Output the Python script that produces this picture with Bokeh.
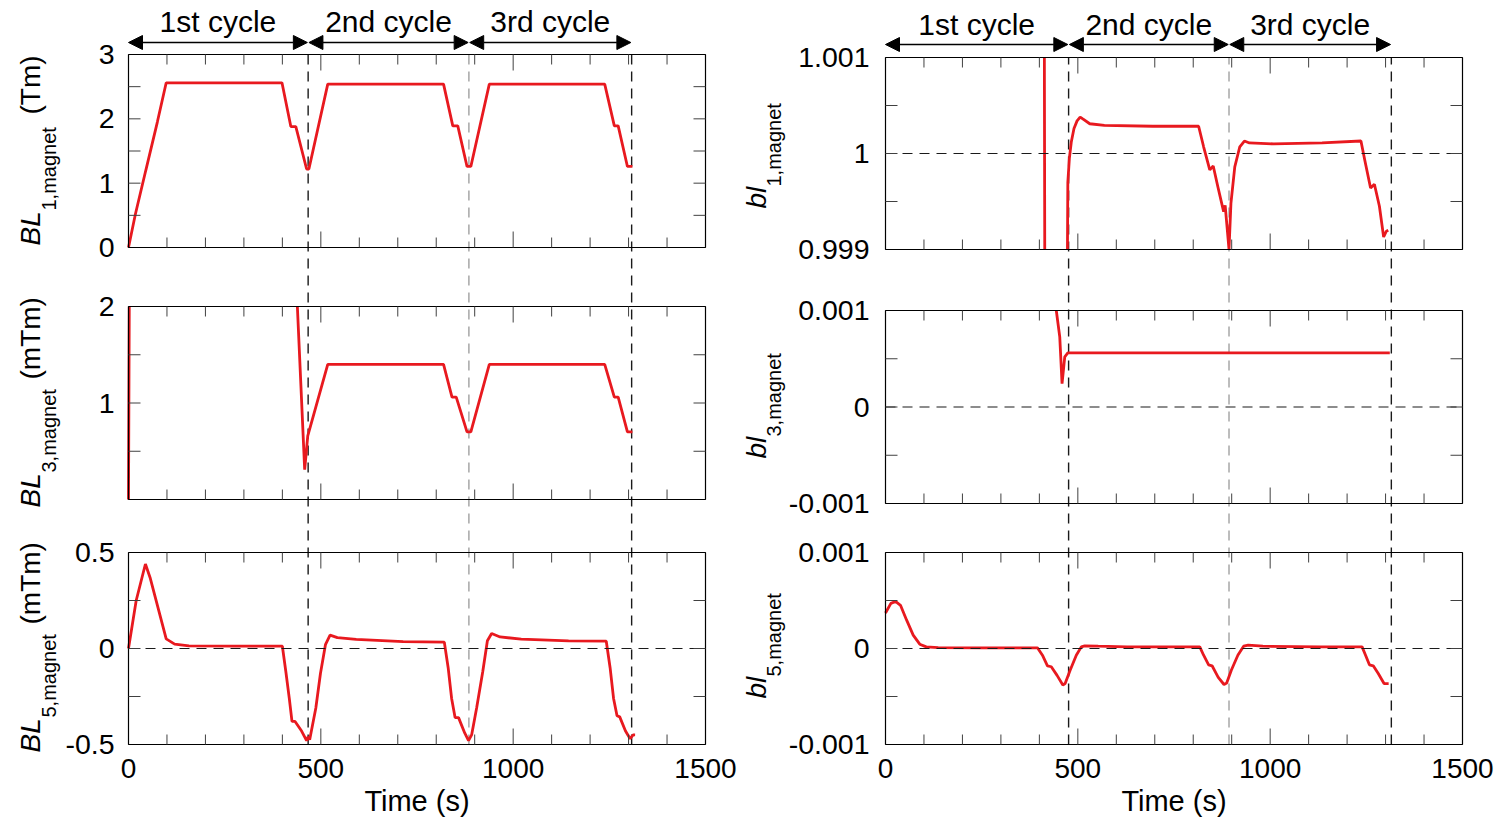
import math
import numpy as np
from bokeh.plotting import figure
from bokeh.models import Range1d, Arrow, NormalHead, ColumnDataSource, CoordinateMapping
from bokeh.embed import file_html
from bokeh.resources import INLINE
from bokeh.core.properties import value

nan = np.nan

# ---------------- data ----------------
cycle_names = ["1st cycle", "2nd cycle", "3rd cycle"]
bounds_left = [467, 885, 1308]      # cycle boundaries (s), left column
bounds_right = [476, 893, 1315]     # cycle boundaries (s), right column

x_range_s = [0, 1500]
x_major = [0, 500, 1000, 1500]
x_major_labels = ["0", "500", "1000", "1500"]
x_minor = list(range(0, 1501, 100))

# BL1,magnet (Tm)
t_BL1 = [0, 18, 45, 75, 98, 399, 422, 435, 463, 469, 518, 819, 843, 856, 880, 890,
         938, 1238, 1263, 1273, 1297, 1310]
BL1 = [0, 0.52, 1.2, 1.95, 2.56, 2.56, 1.88, 1.88, 1.22, 1.22, 2.54, 2.54, 1.89, 1.89, 1.26, 1.26,
       2.54, 2.54, 1.89, 1.89, 1.26, 1.26]
BL1_ticks, BL1_labels, BL1_minor = [0, 1, 2, 3], ["0", "1", "2", "3"], [0.5, 1.5, 2.5]

# BL3,magnet (mTm)  (nan = trace outside the plotted window)
t_BL3 = [0, 2, 2, 439, 458, 466, 518, 819, 841, 852, 880, 890, 938, 1238, 1263, 1273, 1297, 1310]
BL3 = [0, 2.0, nan, 2.0, 0.31, 0.66, 1.40, 1.40, 1.06, 1.06, 0.70, 0.70, 1.40, 1.40, 1.06, 1.06, 0.70, 0.70]
BL3_ticks, BL3_labels, BL3_minor = [1, 2], ["1", "2"], [0.5, 1.5]

# BL5,magnet (mTm)
t_BL5 = [0, 20, 44, 56, 77, 98, 120, 157, 280, 400,
         409, 418, 425, 433, 450, 463, 467, 471, 487, 499, 512, 524, 543, 592, 714, 821,
         831, 840, 849, 858, 874, 884, 892, 905, 921, 933, 944, 966, 1021, 1144, 1242,
         1252, 1261, 1270, 1277, 1292, 1304, 1312, 1317]
BL5 = [0, 0.25, 0.44, 0.37, 0.21, 0.05, 0.023, 0.014, 0.012, 0.012,
       -0.12, -0.26, -0.38, -0.38, -0.43, -0.48, -0.46, -0.475, -0.31, -0.13, 0.02, 0.07, 0.057, 0.047, 0.036, 0.033,
       -0.10, -0.26, -0.36, -0.36, -0.44, -0.48, -0.45, -0.31, -0.12, 0.04, 0.078, 0.06, 0.049, 0.04, 0.038,
       -0.10, -0.26, -0.35, -0.356, -0.43, -0.47, -0.45, -0.45]
BL5_ticks, BL5_labels, BL5_minor = [-0.5, 0, 0.5], ["-0.5", "0", "0.5"], [-0.25, 0.25]

# bl1,magnet
t_bl1 = [413, 414, 414, 473, 474, 478, 483, 490, 498, 506, 512, 531, 569, 695, 814,
         827, 843, 852, 864, 879, 883, 893, 898, 908, 921, 933, 946, 1009, 1135, 1236,
         1246, 1261, 1271, 1284, 1295, 1302, 1307]
bl1 = [1.001, 0.999, nan, 0.999, 0.99970, 0.99995, 1.00012, 1.00026, 1.00034, 1.00038, 1.000363, 1.00031, 1.000294, 1.000284, 1.000284,
       1.00007, 0.99983, 0.99987, 0.999654, 0.999394, 0.99946, 0.999, 0.99948, 0.99986, 1.00007, 1.00013, 1.00011, 1.00010, 1.00011, 1.00013,
       0.99993, 0.99964, 0.99968, 0.99945, 0.99913, 0.99919, 0.9992]
bl1_ticks, bl1_labels, bl1_minor = [0.999, 1, 1.001], ["0.999", "1", "1.001"], [0.9995, 1.0005]

# bl3,magnet
t_bl3 = [444, 453, 459, 466, 474, 1311]
bl3 = [0.001, 0.000727, 0.000242, 0.00052, 0.00056, 0.00056]
bl3_ticks, bl3_labels, bl3_minor = [-0.001, 0, 0.001], ["-0.001", "0", "0.001"], [-0.0005, 0.0005]

# bl5,magnet
t_bl5 = [0, 14, 26, 39, 55, 72, 89, 106, 137, 251,
         395, 408, 421, 431, 446, 461, 467, 480, 496, 509,
         518, 553, 628, 817, 827, 840, 849, 865, 880, 887,
         899, 916, 931, 943, 981, 1132, 1239, 1248, 1258, 1268,
         1281, 1296, 1308]
bl5 = [0.00037, 0.00047, 0.00049, 0.00045, 0.000295, 0.000139, 0.000045, 0.000017, 0.00001, 0.000007,
       0.000007, -0.00007, -0.00018, -0.00019, -0.00028, -0.00038, -0.000365, -0.000226, -0.00007, 0.000017,
       0.000028, 0.000024, 0.000017, 0.000017, -0.00007, -0.00017, -0.00018, -0.0003, -0.000375, -0.00036,
       -0.000226, -0.00007, 0.000024, 0.000035, 0.000024, 0.000017, 0.000017, -0.00007, -0.00017, -0.00018,
       -0.00026, -0.000365, -0.000365]
bl5_ticks, bl5_labels, bl5_minor = [-0.001, 0, 0.001], ["-0.001", "0", "0.001"], [-0.0005, 0.0005]

# ---------------- style / layout ----------------
FONT = "Liberation Sans"
RED = "#e8191f"
TICK = "#404040"
DASH = "10 7"
W, H = 1497, 817

p = figure(width=W, height=H, x_range=Range1d(0, W), y_range=Range1d(H, 0),
           min_border=0, x_axis_location=None, y_axis_location=None,
           toolbar_location=None, output_backend="svg")
p.outline_line_color = None
p.grid.visible = False
p.background_fill_color = "white"
p.border_fill_color = "white"


def mapping(xt, yt, ysrc):
    return dict(x_source=Range1d(*x_range_s), y_source=Range1d(*ysrc),
                x_target=Range1d(*xt), y_target=Range1d(*yt))


def txt(g, **kw):
    base = dict(text_font=value(FONT), text_color="black", text_baseline="middle")
    base.update(kw)
    return g.text(**base)


def panel(xt, yt, lo, hi, t, v, ticks, labels, minor, lab_off, hline=None, xlabels=False):
    s = p.subplot(**mapping(xt, yt, (lo, hi)))
    x0, x1 = x_range_s
    # data
    s.line(np.asarray(t, float), np.asarray(v, float), line_color=RED, line_width=2.8)
    if hline is not None:
        s.segment(x0=[x0], y0=[hline], x1=[x1], y1=[hline], line_color="#1a1a1a",
                  line_width=1.2, line_dash=DASH)
    # frame
    s.quad(left=[x0], right=[x1], bottom=[lo], top=[hi], fill_color=None,
           line_color="black", line_width=1.2)
    # x ticks (bottom & top, inside)
    xmin = [x for x in x_minor if x not in x_major and x0 < x < x1]
    xmaj = [x for x in x_major if x0 < x < x1]
    for y, ang in ((lo, math.pi / 2), (hi, -math.pi / 2)):
        s.ray(x=xmin, y=[y] * len(xmin), length=10, angle=ang, length_units="screen",
              line_color=TICK, line_width=1)
        s.ray(x=xmaj, y=[y] * len(xmaj), length=16, angle=ang, length_units="screen",
              line_color=TICK, line_width=1)
    # y ticks (left & right, inside)
    yall = [y for y in sorted(set(ticks + minor)) if lo < y < hi]
    for x, ang in ((x0, 0.0), (x1, math.pi)):
        s.ray(x=[x] * len(yall), y=yall, length=12, angle=ang, length_units="screen",
              line_color=TICK, line_width=1)
    # y tick labels
    txt(s, x=[x0] * len(ticks), y=ticks, text=labels, x_offset=lab_off,
        text_font_size="28.5px", text_align="right")
    if xlabels:
        txt(s, x=x_major, y=[lo] * len(x_major), text=x_major_labels, y_offset=24,
            text_font_size="28px", text_align="center")
        txt(s, x=[(x0 + x1) / 2], y=[lo], text=["Time (s)"], y_offset=56,
            text_font_size="29px", text_align="center")
    return s


def dashed_columns(xt, ybot, ytop, bounds):
    s = p.subplot(**mapping(xt, (ybot, ytop), (0, 1)))
    n = len(bounds)
    colors = ["#1a1a1a", "#7a7a7a", "#1a1a1a"]
    widths = [1.4, 1.0, 1.4]
    s.segment(x0=bounds, y0=[0] * n, x1=bounds, y1=[1] * n, line_color=colors,
              line_width=widths, line_dash=DASH)


def header(xt, y_arrow, text_dy, bounds):
    m = mapping(xt, (y_arrow, y_arrow - 1), (0, 1))
    s = p.subplot(**m)
    starts = [x_range_s[0]] + [b + 2 for b in bounds[:-1]]
    ends = [b - 2 for b in bounds]
    centers = [(a + b) / 2 for a, b in zip(starts, ends)]
    txt(s, x=centers, y=[0] * len(centers), text=cycle_names, y_offset=text_dy,
        text_font_size="30px", text_align="center")
    src = ColumnDataSource(dict(x0=starts, x1=ends, y=[0] * len(starts)))
    cm = CoordinateMapping(**mapping(xt, (y_arrow, y_arrow - 1), (0, 1)))
    p.add_layout(Arrow(start=NormalHead(size=14, fill_color="black", line_color="black"),
                       end=NormalHead(size=14, fill_color="black", line_color="black"),
                       x_start="x0", y_start="y", x_end="x1", y_end="y", source=src,
                       line_width=1.6, line_color="black", coordinates=cm))


def ytitle(main, sub, unit, xm, xs, ym, ys, yu):
    common = dict(angle=math.pi / 2, text_align="left")
    txt(p, x=[xm], y=[ym], text=[main], text_font_size="28px", text_font_style="italic", **common)
    txt(p, x=[xs], y=[ys], text=[sub], text_font_size="20px", **common)
    if unit:
        txt(p, x=[xm], y=[yu], text=[unit], text_font_size="28px", **common)


XL = (128, 705)
XR = (885, 1462)

# left column
dashed_columns(XL, 744, 54, bounds_left)
panel(XL, (247, 54), 0, 3, t_BL1, BL1, BL1_ticks, BL1_labels, BL1_minor, -14)
panel(XL, (499, 306), 0, 2, t_BL3, BL3, BL3_ticks, BL3_labels, BL3_minor, -14)
panel(XL, (744, 552), -0.5, 0.5, t_BL5, BL5, BL5_ticks, BL5_labels, BL5_minor, -14,
      hline=0, xlabels=True)
header(XL, 42, -21, bounds_left)
ytitle("BL", "1,magnet", "(Tm)", 30, 48, 245, 210, 114)
ytitle("BL", "3,magnet", "(mTm)", 30, 48, 507, 472, 379)
ytitle("BL", "5,magnet", "(mTm)", 30, 48, 752, 717, 624)

# right column
dashed_columns(XR, 744, 57, bounds_right)
panel(XR, (249, 57), 0.999, 1.001, t_bl1, bl1, bl1_ticks, bl1_labels, bl1_minor, -16, hline=1)
panel(XR, (503, 310), -0.001, 0.001, t_bl3, bl3, bl3_ticks, bl3_labels, bl3_minor, -16, hline=0)
panel(XR, (744, 552), -0.001, 0.001, t_bl5, bl5, bl5_ticks, bl5_labels, bl5_minor, -16,
      hline=0, xlabels=True)
header(XR, 44, -20, bounds_right)
ytitle("bl", "1,magnet", None, 756, 773, 208, 186, 0)
ytitle("bl", "3,magnet", None, 756, 773, 458, 436, 0)
ytitle("bl", "5,magnet", None, 756, 773, 698, 676, 0)

open("out.html", "w").write(file_html(p, INLINE))
